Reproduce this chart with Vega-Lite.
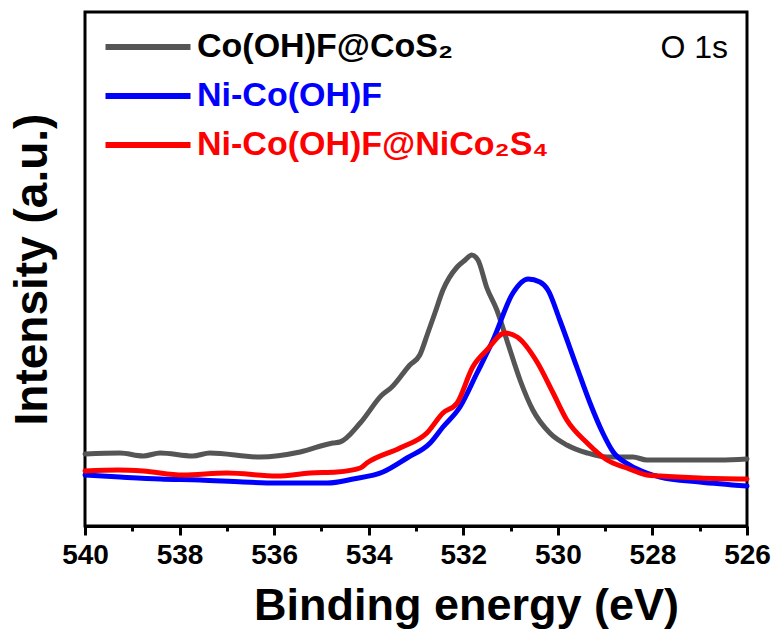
{
  "$schema": "https://vega.github.io/schema/vega-lite/v6.json",
  "width": 662,
  "height": 514,
  "autosize": "none",
  "padding": {"left": 85, "top": 12, "right": 34, "bottom": 110},
  "background": "white",
  "config": {
    "view": {"stroke": "black", "strokeWidth": 3},
    "font": "Liberation Sans"
  },
  "datasets": {
    "spectra": [
      {"s": "Co(OH)F@CoS₂", "e": 540.00, "i": 72},
      {"s": "Co(OH)F@CoS₂", "e": 539.26, "i": 73},
      {"s": "Co(OH)F@CoS₂", "e": 538.77, "i": 70},
      {"s": "Co(OH)F@CoS₂", "e": 538.41, "i": 73},
      {"s": "Co(OH)F@CoS₂", "e": 537.72, "i": 70},
      {"s": "Co(OH)F@CoS₂", "e": 537.36, "i": 73},
      {"s": "Co(OH)F@CoS₂", "e": 536.30, "i": 69},
      {"s": "Co(OH)F@CoS₂", "e": 535.45, "i": 74},
      {"s": "Co(OH)F@CoS₂", "e": 534.76, "i": 83},
      {"s": "Co(OH)F@CoS₂", "e": 534.61, "i": 84},
      {"s": "Co(OH)F@CoS₂", "e": 534.18, "i": 103},
      {"s": "Co(OH)F@CoS₂", "e": 533.72, "i": 131},
      {"s": "Co(OH)F@CoS₂", "e": 533.51, "i": 139},
      {"s": "Co(OH)F@CoS₂", "e": 533.13, "i": 161},
      {"s": "Co(OH)F@CoS₂", "e": 532.92, "i": 171},
      {"s": "Co(OH)F@CoS₂", "e": 532.75, "i": 193},
      {"s": "Co(OH)F@CoS₂", "e": 532.60, "i": 213},
      {"s": "Co(OH)F@CoS₂", "e": 532.43, "i": 236},
      {"s": "Co(OH)F@CoS₂", "e": 532.13, "i": 259},
      {"s": "Co(OH)F@CoS₂", "e": 531.96, "i": 266},
      {"s": "Co(OH)F@CoS₂", "e": 531.82, "i": 271},
      {"s": "Co(OH)F@CoS₂", "e": 531.69, "i": 266},
      {"s": "Co(OH)F@CoS₂", "e": 531.50, "i": 238},
      {"s": "Co(OH)F@CoS₂", "e": 531.29, "i": 216},
      {"s": "Co(OH)F@CoS₂", "e": 531.06, "i": 183},
      {"s": "Co(OH)F@CoS₂", "e": 530.80, "i": 146},
      {"s": "Co(OH)F@CoS₂", "e": 530.53, "i": 116},
      {"s": "Co(OH)F@CoS₂", "e": 530.17, "i": 93},
      {"s": "Co(OH)F@CoS₂", "e": 529.81, "i": 81},
      {"s": "Co(OH)F@CoS₂", "e": 529.38, "i": 73},
      {"s": "Co(OH)F@CoS₂", "e": 528.96, "i": 69},
      {"s": "Co(OH)F@CoS₂", "e": 528.41, "i": 69},
      {"s": "Co(OH)F@CoS₂", "e": 528.12, "i": 66},
      {"s": "Co(OH)F@CoS₂", "e": 527.42, "i": 66},
      {"s": "Co(OH)F@CoS₂", "e": 526.57, "i": 66},
      {"s": "Co(OH)F@CoS₂", "e": 526.00, "i": 67},
      {"s": "Ni-Co(OH)F", "e": 540.00, "i": 51},
      {"s": "Ni-Co(OH)F", "e": 539.26, "i": 49},
      {"s": "Ni-Co(OH)F", "e": 538.41, "i": 47},
      {"s": "Ni-Co(OH)F", "e": 537.57, "i": 46},
      {"s": "Ni-Co(OH)F", "e": 536.66, "i": 44},
      {"s": "Ni-Co(OH)F", "e": 535.94, "i": 43},
      {"s": "Ni-Co(OH)F", "e": 534.88, "i": 43},
      {"s": "Ni-Co(OH)F", "e": 534.33, "i": 47},
      {"s": "Ni-Co(OH)F", "e": 533.70, "i": 54},
      {"s": "Ni-Co(OH)F", "e": 533.19, "i": 68},
      {"s": "Ni-Co(OH)F", "e": 532.70, "i": 83},
      {"s": "Ni-Co(OH)F", "e": 532.43, "i": 99},
      {"s": "Ni-Co(OH)F", "e": 532.07, "i": 119},
      {"s": "Ni-Co(OH)F", "e": 531.71, "i": 153},
      {"s": "Ni-Co(OH)F", "e": 531.37, "i": 186},
      {"s": "Ni-Co(OH)F", "e": 530.95, "i": 233},
      {"s": "Ni-Co(OH)F", "e": 530.63, "i": 247},
      {"s": "Ni-Co(OH)F", "e": 530.38, "i": 244},
      {"s": "Ni-Co(OH)F", "e": 530.21, "i": 236},
      {"s": "Ni-Co(OH)F", "e": 529.96, "i": 206},
      {"s": "Ni-Co(OH)F", "e": 529.60, "i": 159},
      {"s": "Ni-Co(OH)F", "e": 529.32, "i": 123},
      {"s": "Ni-Co(OH)F", "e": 529.05, "i": 93},
      {"s": "Ni-Co(OH)F", "e": 528.83, "i": 74},
      {"s": "Ni-Co(OH)F", "e": 528.48, "i": 61},
      {"s": "Ni-Co(OH)F", "e": 528.12, "i": 53},
      {"s": "Ni-Co(OH)F", "e": 527.84, "i": 49},
      {"s": "Ni-Co(OH)F", "e": 527.00, "i": 44},
      {"s": "Ni-Co(OH)F", "e": 526.00, "i": 40},
      {"s": "Ni-Co(OH)F@NiCo₂S₄", "e": 540.00, "i": 55},
      {"s": "Ni-Co(OH)F@NiCo₂S₄", "e": 539.30, "i": 56},
      {"s": "Ni-Co(OH)F@NiCo₂S₄", "e": 538.77, "i": 55},
      {"s": "Ni-Co(OH)F@NiCo₂S₄", "e": 537.93, "i": 51},
      {"s": "Ni-Co(OH)F@NiCo₂S₄", "e": 537.00, "i": 53},
      {"s": "Ni-Co(OH)F@NiCo₂S₄", "e": 535.94, "i": 50},
      {"s": "Ni-Co(OH)F@NiCo₂S₄", "e": 535.24, "i": 53},
      {"s": "Ni-Co(OH)F@NiCo₂S₄", "e": 534.67, "i": 54},
      {"s": "Ni-Co(OH)F@NiCo₂S₄", "e": 534.18, "i": 58},
      {"s": "Ni-Co(OH)F@NiCo₂S₄", "e": 534.04, "i": 63},
      {"s": "Ni-Co(OH)F@NiCo₂S₄", "e": 533.34, "i": 78},
      {"s": "Ni-Co(OH)F@NiCo₂S₄", "e": 532.77, "i": 93},
      {"s": "Ni-Co(OH)F@NiCo₂S₄", "e": 532.43, "i": 113},
      {"s": "Ni-Co(OH)F@NiCo₂S₄", "e": 532.13, "i": 123},
      {"s": "Ni-Co(OH)F@NiCo₂S₄", "e": 531.80, "i": 159},
      {"s": "Ni-Co(OH)F@NiCo₂S₄", "e": 531.50, "i": 176},
      {"s": "Ni-Co(OH)F@NiCo₂S₄", "e": 531.12, "i": 193},
      {"s": "Ni-Co(OH)F@NiCo₂S₄", "e": 530.86, "i": 189},
      {"s": "Ni-Co(OH)F@NiCo₂S₄", "e": 530.44, "i": 164},
      {"s": "Ni-Co(OH)F@NiCo₂S₄", "e": 530.10, "i": 133},
      {"s": "Ni-Co(OH)F@NiCo₂S₄", "e": 529.81, "i": 106},
      {"s": "Ni-Co(OH)F@NiCo₂S₄", "e": 529.38, "i": 83},
      {"s": "Ni-Co(OH)F@NiCo₂S₄", "e": 528.96, "i": 66},
      {"s": "Ni-Co(OH)F@NiCo₂S₄", "e": 528.54, "i": 58},
      {"s": "Ni-Co(OH)F@NiCo₂S₄", "e": 528.12, "i": 51},
      {"s": "Ni-Co(OH)F@NiCo₂S₄", "e": 527.84, "i": 50},
      {"s": "Ni-Co(OH)F@NiCo₂S₄", "e": 527.00, "i": 48},
      {"s": "Ni-Co(OH)F@NiCo₂S₄", "e": 526.00, "i": 47}
    ]
  },
  "layer": [
    {
      "data": {"name": "spectra"},
      "mark": {"type": "line", "strokeWidth": 5, "strokeJoin": "round", "strokeCap": "round", "interpolate": "monotone"},
      "encoding": {
        "x": {
          "field": "e", "type": "quantitative",
          "scale": {"domain": [540, 526], "nice": false, "zero": false},
          "axis": {
            "values": [540, 539, 538, 537, 536, 535, 534, 533, 532, 531, 530, 529, 528, 527, 526],
            "labelExpr": "datum.value % 2 == 0 ? datum.label : ''",
            "tickSize": {"condition": {"test": "datum.value % 2 != 0", "value": 5}, "value": 9},
            "tickWidth": 3, "tickColor": "black",
            "domainColor": "black", "domainWidth": 3,
            "grid": false,
            "labelFont": "Liberation Sans", "labelFontWeight": "bold", "labelFontSize": 28, "labelColor": "black",
            "labelPadding": 6, "labelFlush": false, "labelOverlap": false,
            "title": "Binding energy (eV)",
            "titleFont": "Liberation Sans", "titleFontWeight": "bold", "titleFontSize": 45, "titleColor": "black",
            "titlePadding": 14, "titleX": 381, "titleAlign": "center"
          }
        },
        "y": {
          "field": "i", "type": "quantitative",
          "scale": {"domain": [0, 514], "nice": false, "zero": false},
          "axis": {
            "labels": false, "ticks": false, "grid": false, "domain": false,
            "title": "Intensity (a.u.)",
            "titleFont": "Liberation Sans", "titleFontWeight": "bold", "titleFontSize": 46, "titleColor": "black",
            "titlePadding": 29
          }
        },
        "color": {
          "field": "s", "type": "nominal",
          "scale": {
            "domain": ["Co(OH)F@CoS₂", "Ni-Co(OH)F", "Ni-Co(OH)F@NiCo₂S₄"],
            "range": ["#555555", "#0000ff", "#ff0000"]
          },
          "legend": {
            "orient": "none", "legendX": 35, "legendY": 7,
            "title": null, "padding": 0,
            "symbolType": "M-1.7,0L1.7,0", "symbolSize": 2500, "symbolStrokeWidth": 6,
            "labelFont": "Liberation Sans", "labelFontWeight": "bold", "labelFontSize": 34,
            "labelColor": {"expr": "datum.label == 'Ni-Co(OH)F' ? '#0000ff' : (datum.label == 'Co(OH)F@CoS₂' ? '#000000' : '#ff0000')"},
            "labelOffset": 21, "rowPadding": 4, "labelLimit": 600
          }
        }
      }
    },
    {
      "data": {"values": [{}]},
      "mark": {"type": "text", "align": "right", "baseline": "middle", "font": "Liberation Sans", "fontSize": 32, "color": "black"},
      "encoding": {
        "x": {"datum": 526.4, "type": "quantitative"},
        "y": {"datum": 478, "type": "quantitative"},
        "text": {"value": "O 1s"}
      }
    }
  ]
}
